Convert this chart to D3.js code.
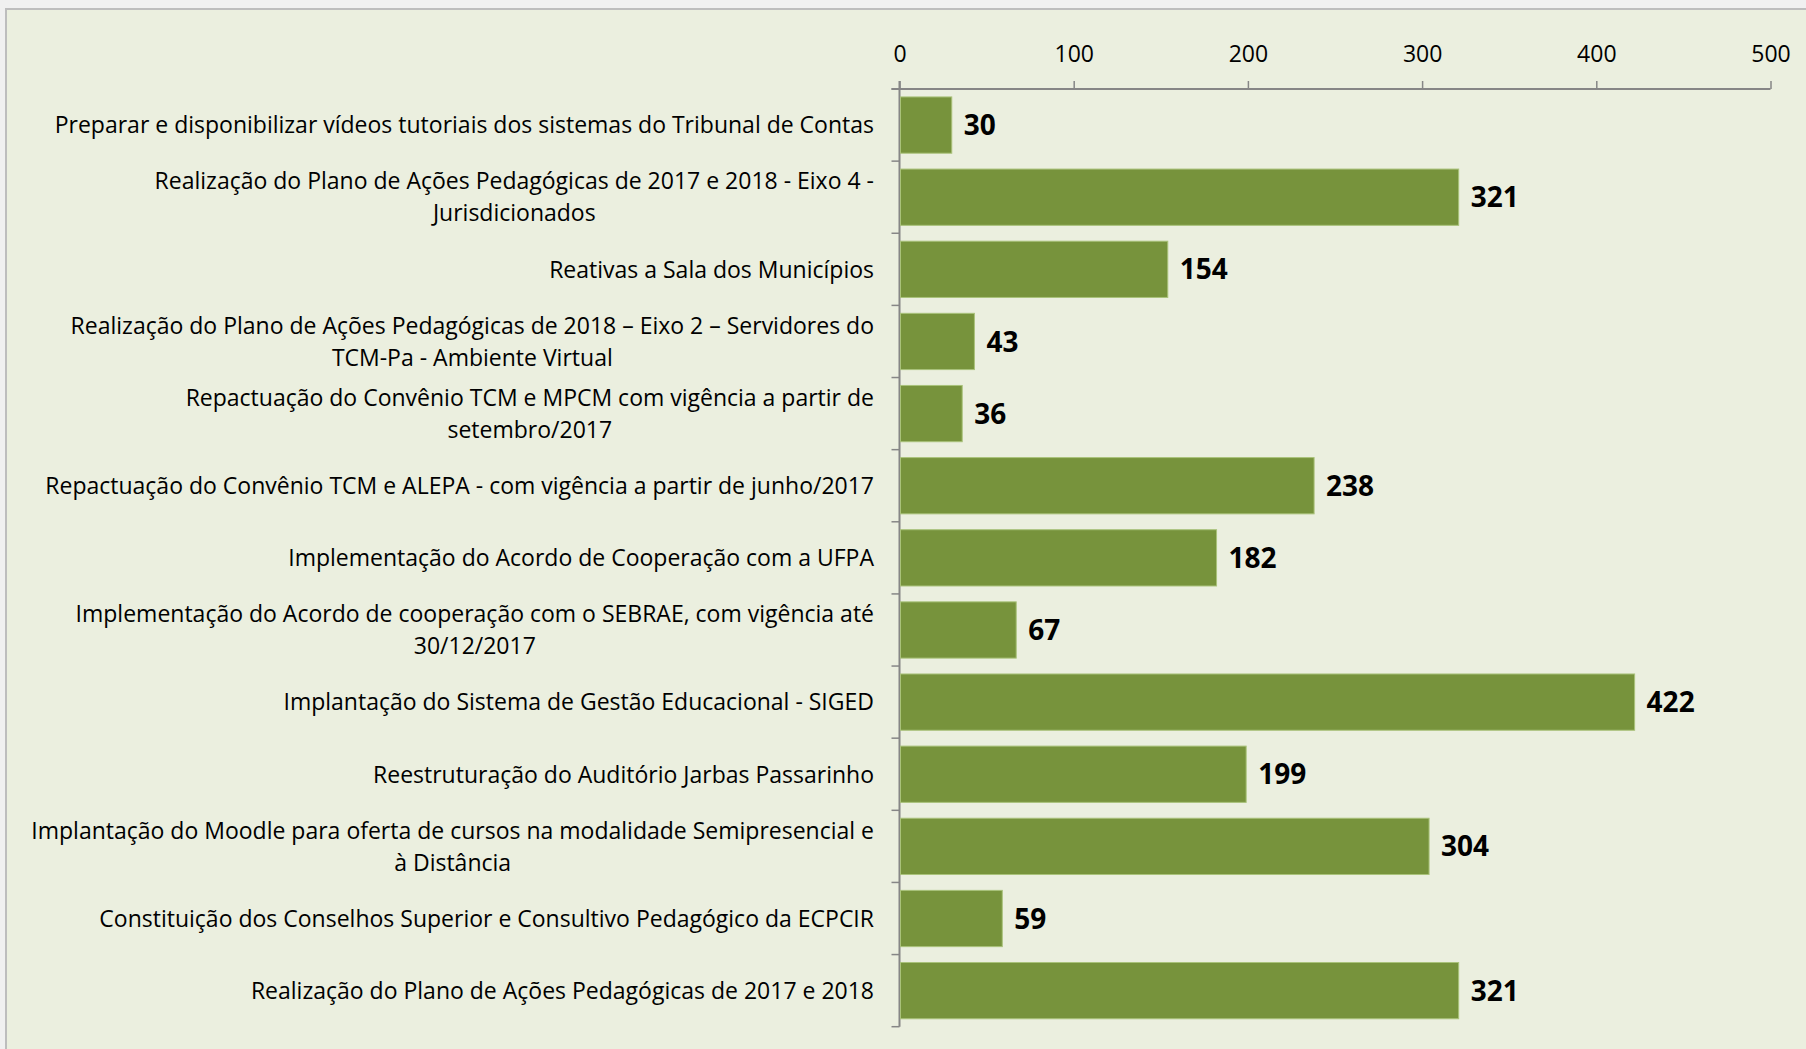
<!DOCTYPE html>
<html>
<head>
<meta charset="utf-8">
<script src="https://cdn.jsdelivr.net/npm/d3@7"></script>
<style>
  html, body { margin: 0; padding: 0; background: #f0f0f0; overflow: hidden; }
  svg { display: block; font-family: "Open Sans", Lato, sans-serif; }
</style>
</head>
<body>
<div id="chart"></div>
<script>
// Categorias (ordem de cima para baixo), quebras de linha como no original
const categories = [
  "Preparar e disponibilizar vídeos tutoriais dos sistemas do Tribunal de Contas",
  "Realização do Plano de Ações Pedagógicas de 2017 e 2018 - Eixo 4 -\nJurisdicionados",
  "Reativas a Sala dos Municípios",
  "Realização do Plano de Ações Pedagógicas de 2018 – Eixo 2 – Servidores do\nTCM-Pa - Ambiente Virtual",
  "Repactuação do Convênio TCM e MPCM com vigência a partir de\nsetembro/2017",
  "Repactuação do Convênio TCM e ALEPA - com vigência a partir de junho/2017",
  "Implementação do Acordo de Cooperação com a UFPA",
  "Implementação do Acordo de cooperação com o SEBRAE, com vigência até\n30/12/2017",
  "Implantação do Sistema de Gestão Educacional - SIGED",
  "Reestruturação do Auditório Jarbas Passarinho",
  "Implantação do Moodle para oferta de cursos na modalidade Semipresencial e\nà Distância",
  "Constituição dos Conselhos Superior e Consultivo Pedagógico da ECPCIR",
  "Realização do Plano de Ações Pedagógicas de 2017 e 2018"
];

const values = [30, 321, 154, 43, 36, 238, 182, 67, 422, 199, 304, 59, 321];

const xTicks = [0, 100, 200, 300, 400, 500];

const W = 1806, H = 1049;
const fontFam = "'Open Sans', Lato, sans-serif";

const svg = d3.select("#chart").append("svg")
    .attr("width", W)
    .attr("height", H);

// fundo da área do gráfico
svg.append("rect")
    .attr("x", 6).attr("y", 9)
    .attr("width", W).attr("height", H)
    .attr("fill", "#ebefdf")
    .attr("stroke", "#bdbdbd")
    .attr("stroke-width", 2);

const x = d3.scaleLinear()
    .domain([0, 500])
    .range([899.5, 1770.5]);

const y = d3.scaleBand()
    .domain(d3.range(categories.length))
    .range([89, 1026.7])
    .paddingInner(0.22)
    .paddingOuter(0.11);

const axisColor = "#868686";

// eixo superior (valores)
const xAxis = d3.axisTop(x)
    .tickValues(xTicks)
    .tickSize(8)
    .tickPadding(19)
    .tickSizeOuter(0);

const gx = svg.append("g")
    .attr("transform", `translate(0,89)`)
    .call(xAxis);

gx.select(".domain").attr("stroke", axisColor).attr("stroke-width", 2)
    .attr("d", `M${x(0) - 8},0H${x(500)}`);
gx.selectAll(".tick line").attr("stroke", axisColor).attr("stroke-width", 1.5);
gx.selectAll(".tick text")
    .attr("fill", "#000")
    .style("font-size", "23px")
    .style("font-family", fontFam);

// eixo das categorias (marcas entre as categorias)
const yTop = 89, yBottom = 1026.7;
const bounds = d3.range(categories.length + 1).map(i => yTop + i * (yBottom - yTop) / categories.length);

svg.append("line")
    .attr("x1", x(0)).attr("x2", x(0))
    .attr("y1", 81).attr("y2", yBottom)
    .attr("stroke", axisColor).attr("stroke-width", 2);

svg.selectAll(".ytick")
    .data(bounds)
    .enter().append("line")
    .attr("class", "ytick")
    .attr("x1", x(0) - 8).attr("x2", x(0))
    .attr("y1", d => d).attr("y2", d => d)
    .attr("stroke", axisColor).attr("stroke-width", 1.5);

// barras
svg.selectAll(".bar")
    .data(values)
    .enter().append("rect")
    .attr("class", "bar")
    .attr("x", x(0) + 1)
    .attr("y", (d, i) => y(i))
    .attr("width", d => x(d) - x(0) - 1)
    .attr("height", y.bandwidth())
    .attr("fill", "#77933c")
    .attr("stroke", "#a9c27a")
    .attr("stroke-width", 1);

// rótulos de valor
svg.selectAll(".val")
    .data(values)
    .enter().append("text")
    .attr("class", "val")
    .attr("x", d => x(d) + 12)
    .attr("y", (d, i) => y(i) + y.bandwidth() / 2)
    .attr("dy", "0.36em")
    .style("font-size", "28px")
    .style("font-weight", "bold")
    .attr("fill", "#000")
    .text(d => d);

// rótulos das categorias: bloco alinhado à direita, linhas centralizadas
const labelRight = 874;
const lineH = 32;

categories.forEach((cat, i) => {
    const lines = cat.split("\n");
    const g = svg.append("g");
    const cy = y(i) + y.bandwidth() / 2;
    const texts = lines.map((ln, j) => g.append("text")
        .attr("y", cy + (j - (lines.length - 1) / 2) * lineH)
        .attr("dy", "0.36em")
        .attr("text-anchor", "middle")
        .style("font-size", "23px")
        .attr("fill", "#000")
        .text(ln));
    const maxW = d3.max(texts, t => t.node().getComputedTextLength());
    texts.forEach(t => t.attr("x", labelRight - maxW / 2));
});
</script>
</body>
</html>
